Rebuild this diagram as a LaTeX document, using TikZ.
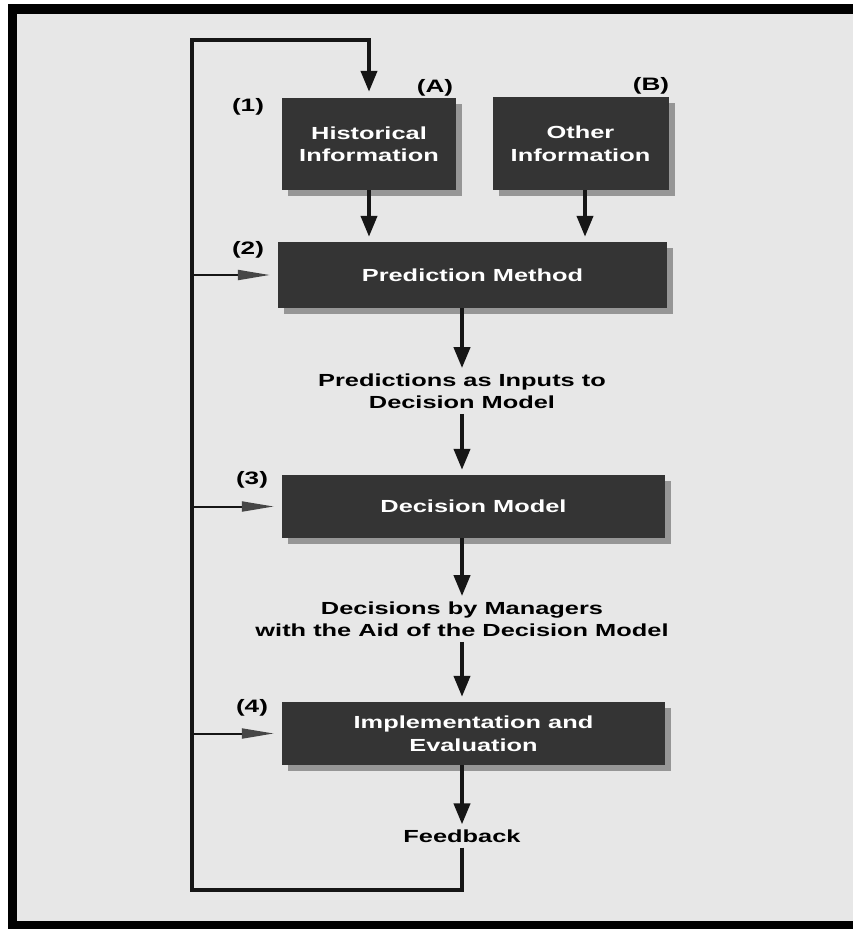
\documentclass[tikz,border=0pt]{standalone}
\usepackage{fontspec}
\usetikzlibrary{arrows.meta,shadows}
\newfontfamily\dfont{Liberation Sans}[FakeStretch=1.45]
\definecolor{paperc}{RGB}{231,231,231}
\definecolor{boxc}{RGB}{52,52,52}
\definecolor{shadc}{RGB}{150,150,150}
\definecolor{inkc}{RGB}{22,22,22}
\definecolor{headc}{RGB}{70,70,70}
\tikzset{
  box/.style={fill=boxc, text=white, draw=none, inner sep=0pt, align=center,
    font=\dfont\bfseries\fontsize{17.5}{22.5}\selectfont,
    drop shadow={shadow xshift=6pt, shadow yshift=-6pt, fill=shadc, opacity=1}},
  lbl/.style={text=black, align=center, inner sep=5pt,
    font=\dfont\bfseries\fontsize{17.5}{22.5}\selectfont},
  num/.style={text=black, inner sep=0pt, font=\dfont\bfseries\fontsize{18}{20}\selectfont},
  flow/.style={line width=4pt, draw=inkc, -{Triangle[width=16pt,length=21pt]}},
  sidearrow/.style={line width=2pt, draw=inkc, shorten >=8pt,
    -{Triangle[width=10pt,length=32pt,color=headc,fill=headc]}},
  looppath/.style={line width=4pt, draw=inkc, line join=miter}
}
\begin{document}
\begin{tikzpicture}[x=1pt,y=-1pt]
% page and dark scan frame
\fill[white] (0,0) rectangle (853,929);
\useasboundingbox (0,0) rectangle (853,929);
\fill[black] (8,4) rectangle (853,14);
\fill[black] (8,4) rectangle (17,929);
\fill[black] (8,921) rectangle (853,929);
\fill[paperc] (17,14) rectangle (853,921);

% boxes
\node[box, minimum width=174pt, minimum height=92pt] (hist) at (369,144) {Historical\\Information};
\node[box, minimum width=176pt, minimum height=93pt] (other) at (580.5,143.5) {Other\\Information};
\node[box, minimum width=389pt, minimum height=66pt] (pred) at (472.5,275) {Prediction Method};
\node[box, minimum width=383pt, minimum height=63pt] (dec) at (473.5,506.5) {Decision Model};
\node[box, minimum width=383pt, minimum height=63pt] (impl) at (473.5,733.5) {Implementation and\\Evaluation};

% intermediate texts
\node[lbl] (predtxt) at (462,391) {Predictions as Inputs to\\Decision Model};
\node[lbl] (dectxt) at (462,619) {Decisions by Managers\\with the Aid of the Decision Model};
\node[lbl] (fb) at (462,836) {Feedback};

% step numbers and letters
\node[num] (n1) at (248,107) {(1)};
\node[num] (n2) at (248,250) {(2)};
\node[num] (n3) at (252,480) {(3)};
\node[num] (n4) at (252,708) {(4)};
\node[num] (la) at (435,88) {(A)};
\node[num] (lb) at (651,86) {(B)};

% loop coordinates
\coordinate (bl) at (192,890);
\coordinate (tl) at (192,40);
\coordinate (ox) at (585,0);

% main flow
\draw[flow, shorten >=5pt] (hist.south) -- (hist.south |- pred.north);
\draw[flow, shorten >=5pt] (other.south -| ox) -- (ox |- pred.north);
\draw[flow] (pred.south -| predtxt) -- (predtxt.north);
\draw[flow, shorten >=5pt] (predtxt.south) -- (predtxt.south |- dec.north);
\draw[flow] (dec.south -| dectxt) -- (dectxt.north);
\draw[flow, shorten >=5pt] (dectxt.south) -- (dectxt.south |- impl.north);
\draw[flow] (impl.south -| fb) -- (fb.north);

% feedback loop
\draw[looppath, -{Triangle[width=16pt,length=21pt]}, shorten >=6pt]
  (fb.south) |- (bl) -- (tl) -| (hist.north);
\draw[sidearrow] (tl |- pred.west) -- (pred.west);
\draw[sidearrow] (tl |- dec.west) -- (dec.west);
\draw[sidearrow] (tl |- impl.west) -- (impl.west);
\end{tikzpicture}
\end{document}
